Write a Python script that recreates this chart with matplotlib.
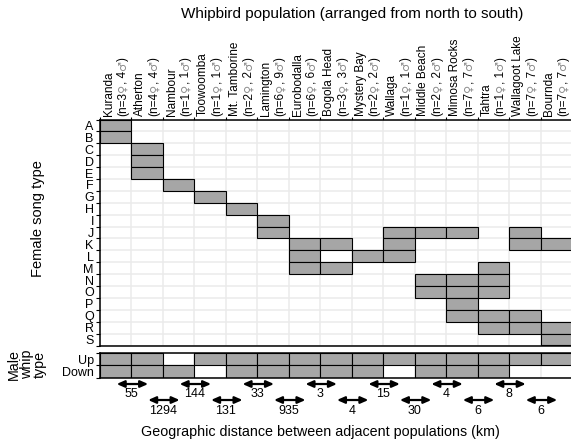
import numpy as np
import matplotlib
matplotlib.use('Agg')
import matplotlib.pyplot as plt

plt.rcParams['font.family'] = ['Liberation Sans', 'DejaVu Sans']

populations = ['Kuranda', 'Atherton', 'Nambour', 'Toowoomba', 'Mt. Tamborine', 'Lamington',
               'Eurobodalla', 'Bogola Head', 'Mystery Bay', 'Wallaga', 'Middle Beach',
               'Mimosa Rocks', 'Tahtra', 'Wallagoot Lake', 'Bournda']
n_female = [3, 4, 1, 1, 2, 6, 6, 3, 2, 1, 2, 7, 1, 7, 7]
n_male = [4, 4, 1, 1, 2, 9, 6, 3, 2, 1, 2, 7, 1, 7, 7]
song_types = list('ABCDEFGHIJKLMNOPQRS')
female_songs = ['AB', 'CDE', 'F', 'G', 'H', 'IJ', 'KLM', 'KM', 'L', 'JKL', 'JNO',
                'JNOPQ', 'MNOQR', 'JKQR', 'KRS']
whip_types = ['Up', 'Down']
whip_up = [1, 1, 0, 1, 1, 1, 1, 1, 1, 1, 1, 1, 1, 1, 1]
whip_down = [1, 1, 1, 0, 1, 1, 1, 1, 1, 0, 1, 1, 1, 0, 0]
distances = [55, 1294, 144, 131, 33, 935, 3, 4, 15, 30, 4, 6, 8, 6]

W, H = 571, 442
BOX = '#a6a6a6'
GRID = '#ebebeb'
SYM = '#8a8a8a'

fig = plt.figure(figsize=(W / 100, H / 100), dpi=100)


def px_axes(x0, y0, x1, y1):
    return fig.add_axes([x0 / W, 1 - y1 / H, (x1 - x0) / W, (y1 - y0) / H])


def style(a, nrow, labels):
    ncol = len(populations)
    a.set_xlim(0, ncol)
    a.set_ylim(nrow, 0)
    a.set_xticks(np.arange(ncol + 1))
    a.set_yticks(np.arange(nrow + 1))
    a.set_yticks(np.arange(nrow) + 0.5, labels, minor=True)
    a.tick_params(axis='y', which='major', length=3, width=0.8, labelleft=False)
    a.tick_params(axis='y', which='minor', length=0, pad=4.5, labelsize=9)
    a.tick_params(axis='x', which='both', bottom=False, top=False,
                  labelbottom=False, labeltop=False)
    a.grid(which='major', color=GRID, lw=1.1)
    a.set_axisbelow(True)
    a.spines['right'].set_visible(False)
    for s in ['top', 'left', 'bottom']:
        a.spines[s].set_linewidth(1.1)


ax = px_axes(100, 119.5, 572, 345.5)
ax_m = px_axes(100, 353, 572, 377.5)
ax_d = px_axes(100, 378, 572, 420)

# female song types
style(ax, len(song_types), song_types)
ax.tick_params(axis='x', which='major', top=True, length=2.5, width=0.8)
cols, rows = [], []
for j, songs in enumerate(female_songs):
    for s in songs:
        cols.append(j + 0.5)
        rows.append(song_types.index(s))
ax.bar(cols, 1, bottom=rows, width=1, color=BOX, edgecolor='black', lw=0.8)

# population labels on top (sex symbols in grey)
for j, pop in enumerate(populations):
    ax.annotate(pop, xy=(j + 0.5, 0), xytext=(-5, 2.5), textcoords='offset points',
                rotation=90, ha='center', va='bottom', fontsize=8.5, annotation_clip=False)
    pieces = ['(n=%d' % n_female[j], '\u2640', ', %d' % n_male[j], '\u2642', ')']
    colors = ['black', SYM, 'black', SYM, 'black']
    t = ax.annotate(pieces[0], xy=(j + 0.5, 0), xytext=(5.2, 2.5), textcoords='offset points',
                    rotation=90, ha='center', va='bottom', fontsize=8.5, annotation_clip=False)
    for p, c in zip(pieces[1:], colors[1:]):
        kw = {}
        if c == SYM:
            kw = dict(family=['DejaVu Sans'], fontsize=8)
        else:
            kw = dict(fontsize=8.5)
        t = ax.annotate(p, xy=(0.5, 1), xycoords=t, rotation=90, ha='center', va='bottom',
                        color=c, annotation_clip=False, **kw)

# male whip types
style(ax_m, len(whip_types), whip_types)
mcols, mrows = [], []
for r, vals in enumerate([whip_up, whip_down]):
    for j, v in enumerate(vals):
        if v:
            mcols.append(j + 0.5)
            mrows.append(r)
ax_m.bar(mcols, 1, bottom=mrows, width=1, color=BOX, edgecolor='black', lw=0.8)

# distances between adjacent populations
ax_d.set_xlim(0, len(populations))
ax_d.set_ylim(1, 0)
ax_d.axis('off')
arrow_y = [0.143, 0.524]
label_y = [0.381, 0.786]
for i, d in enumerate(distances):
    tier = i % 2
    ax_d.annotate('', xy=(i + 0.53, arrow_y[tier]), xytext=(i + 1.53, arrow_y[tier]),
                  arrowprops=dict(arrowstyle='<|-|>,head_length=0.45,head_width=0.2',
                                  lw=1.6, color='black', shrinkA=0, shrinkB=0))
    ax_d.text(i + 1, label_y[tier], str(d), ha='center', va='center', fontsize=9)

fig.text(352 / W, 1 - 14 / H, 'Whipbird population (arranged from north to south)',
         ha='center', va='center', fontsize=11)
fig.text(38 / W, 1 - 219 / H, 'Female song type', rotation=90,
         ha='center', va='center', fontsize=10.5)
fig.text(27 / W, 1 - 364 / H, 'Male\nwhip\ntype', rotation=90, ha='center', va='center',
         fontsize=10.3, linespacing=0.9, multialignment='center')
fig.text(320 / W, 1 - 432 / H, 'Geographic distance between adjacent populations (km)',
         ha='center', va='center', fontsize=10.3)

fig.savefig('out.png', dpi=100)
